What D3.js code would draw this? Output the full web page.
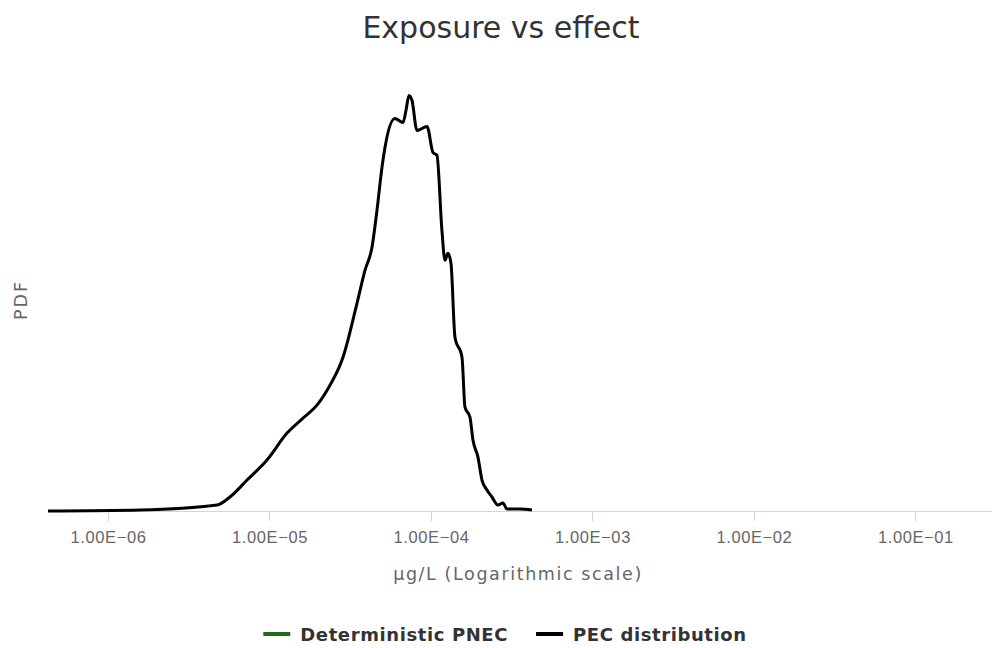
<!DOCTYPE html>
<html>
    <head>
        <meta charset="utf-8">
        <style>
        html, body {
            margin: 0px;
            background: #fff;
        }
        svg {
            display: block;
            font-family: "DejaVu Sans", sans-serif;
        }
        .axis path,
        .axis line {
          fill: none;
          stroke: #ccd6eb;
          shape-rendering: crispEdges;
        }
        .axis text {
          font-size: 16.5px;
          letter-spacing: 0.6px;
          fill: #666;
        }
        </style>
    </head>
    <body>
        <svg class="chart" width="992" height="648"></svg>
        <script src="https://d3js.org/d3.v7.min.js"></script>
        <script>
            // PEC distribution (ug/L, pdf)
            var pecX = [4.25e-7, 1.58e-6, 4.73e-6, 5.69e-6, 7.26e-6, 9.65e-6, 1.284e-5, 1.613e-5, 1.968e-5,
                        2.369e-5, 2.733e-5, 2.852e-5, 3.482e-5, 3.902e-5, 4.312e-5, 4.63e-5, 4.972e-5, 5.19e-5,
                        5.98e-5, 6.71e-5, 7.0e-5, 7.31e-5, 7.63e-5, 8.19e-5, 9.45e-5, 1.029e-4, 1.089e-4,
                        1.169e-4, 1.221e-4, 1.274e-4, 1.33e-4, 1.408e-4, 1.556e-4, 1.624e-4, 1.743e-4, 1.82e-4,
                        1.954e-4, 2.069e-4, 2.222e-4, 2.385e-4, 2.6e-4, 2.791e-4, 2.955e-4, 3.557e-4, 4.22e-4];
            var pecY = [0, 0.0024, 0.0144, 0.0337, 0.0745, 0.1226, 0.1875, 0.2236, 0.2548,
                        0.3029, 0.3510, 0.3702, 0.5, 0.5793, 0.6346, 0.7236, 0.8269, 0.875,
                        0.9447, 0.9351, 0.964, 1.0, 0.988, 0.9159, 0.9255, 0.863, 0.8558,
                        0.6755, 0.6034, 0.6202, 0.5962, 0.4183, 0.3702, 0.25, 0.226, 0.1707,
                        0.1298, 0.0745, 0.0505, 0.0337, 0.0144, 0.0192, 0.0048, 0.0048, 0.0024];

            var xTicks = [1e-6, 1e-5, 1e-4, 1e-3, 1e-2, 1e-1];
            var legendNames = ["Deterministic PNEC", "PEC distribution"];
            var legendColors = ["#1e6b1e", "#000000"];

            var svg = d3.select(".chart");
            var margin = {top: 81, right: 0, bottom: 137, left: 48},
                width = 992 - margin.left - margin.right,
                height = 648 - margin.top - margin.bottom;

            var x = d3.scaleLog().domain([4.25e-7, 0.298]).range([0, width]);
            var y = d3.scaleLinear().domain([0, 1.035]).range([height, 0]);

            svg.append("text")
               .attr("x", 501)
               .attr("y", 38)
               .attr("text-anchor", "middle")
               .style("font-size", "30px")
               .style("fill", "#333")
               .text("Exposure vs effect");

            var chart = svg.append("g")
                           .attr("transform", "translate(" + margin.left + "," + margin.top + ")");

            var xAxis = d3.axisBottom(x)
                          .tickValues(xTicks)
                          .tickSize(10)
                          .tickSizeOuter(0)
                          .tickPadding(10)
                          .tickFormat(function(d) {
                              var e = Math.round(Math.log10(d));
                              return "1.00E\u2212" + (Math.abs(e) < 10 ? "0" : "") + Math.abs(e);
                          });

            chart.append("g")
                 .attr("class", "x axis")
                 .attr("transform", "translate(0," + height + ")")
                 .call(xAxis);

            chart.append("text")
                 .attr("x", width / 2 - 2)
                 .attr("y", height + 69)
                 .attr("text-anchor", "middle")
                 .style("font-size", "17.5px")
                 .style("letter-spacing", "1.6px")
                 .style("fill", "#666")
                 .text("\u00b5g/L (Logarithmic scale)");

            svg.append("text")
               .attr("transform", "translate(27," + (margin.top + height / 2 + 4) + ") rotate(-90)")
               .attr("text-anchor", "middle")
               .style("font-size", "17.5px")
               .style("letter-spacing", "2px")
               .style("fill", "#666")
               .text("PDF");

            var pts = pecX.map(function(d, i) { return [d, pecY[i]]; });
            var line = d3.line()
                         .x(function(d) { return x(d[0]); })
                         .y(function(d) { return y(d[1]); })
                         .curve(d3.curveMonotoneX);

            chart.append("path")
                 .datum(pts)
                 .attr("fill", "none")
                 .attr("stroke", "#000")
                 .attr("stroke-width", 3)
                 .attr("stroke-linejoin", "round")
                 .attr("d", line);

            // legend, centred
            var legend = svg.append("g");
            var lx = 0;
            legendNames.forEach(function(name, i) {
                var item = legend.append("g").attr("transform", "translate(" + lx + ",0)");
                item.append("line")
                    .attr("x1", 0).attr("x2", 27)
                    .attr("y1", 0).attr("y2", 0)
                    .attr("stroke", legendColors[i])
                    .attr("stroke-width", 4);
                var t = item.append("text")
                    .attr("x", 37)
                    .attr("y", 6.5)
                    .style("font-size", "18px")
                    .style("font-weight", "bold")
                    .style("letter-spacing", "0.6px")
                    .style("fill", "#333")
                    .text(name);
                lx += 37 + t.node().getComputedTextLength() + 28;
            });
            lx -= 28;
            legend.attr("transform", "translate(" + (505 - lx / 2) + ",634)");
        </script>
    </body>
</html>
